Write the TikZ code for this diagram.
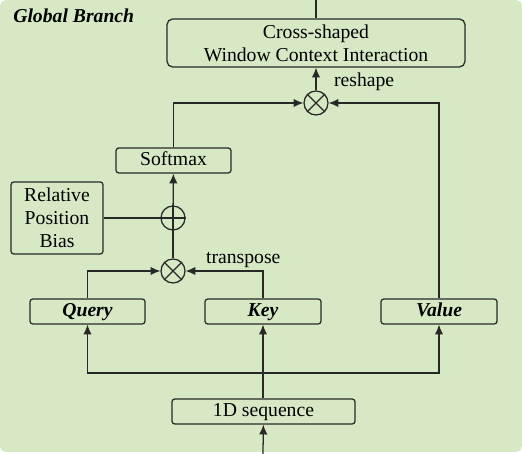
\documentclass[tikz,border=0pt]{standalone}
\usepackage{fontspec}
\setmainfont{Liberation Serif}
\usepackage{xcolor}
\usepackage{tikz}
\usetikzlibrary{arrows.meta}
\usetikzlibrary{positioning}

\definecolor{branchgreen}{RGB}{215,232,197}
\definecolor{linegray}{RGB}{40,40,40}

\begin{document}
\begin{tikzpicture}[
        line width=0.9pt, draw=linegray,
        every node/.style={font=\fontsize{14}{16.5}\selectfont},
        block/.style={draw=linegray,rounded corners=2pt,inner sep=0pt,minimum height=0.625cm,align=center},
        oneline/.style={text height=9.5pt,text depth=3pt},
        qkv/.style={block,oneline,font=\fontsize{14}{16.5}\selectfont\bfseries\itshape},
        opnode/.style={draw=linegray,circle,inner sep=0pt,minimum size=0.6cm},
        flow/.style={-{Latex[length=7pt,width=6pt]}}
    ]
        \useasboundingbox (0,0) rectangle (13.05,11.35);
        \fill[branchgreen,rounded corners=4pt] (0,0.05) rectangle (13.05,11.35);

        \node[anchor=west,font=\fontsize{14}{16.5}\selectfont\bfseries\itshape] (title) at (0.2,10.95) {Global Branch};

        \node[block,minimum width=7.45cm,minimum height=1.2cm,rounded corners=4pt] (cwci) at (7.9,10.275) {Cross-shaped\\Window Context Interaction};
        \node[opnode] (mulr) at (7.9,8.775) {};
        \node[anchor=west] (reshape) at (8.22,9.3) {reshape};

        \node[block,oneline,minimum width=2.875cm] (softmax) at (4.3375,7.3375) {Softmax};
        \node[opnode] (add) at (4.325,5.9) {};
        \node[block,minimum width=2.3cm,minimum height=1.8cm] (rpb) at (1.425,5.9) {Relative\\Position\\Bias};
        \node[opnode] (mult) at (4.325,4.575) {};
        \node[anchor=west] (transpose) at (5.02,4.85) {transpose};

        \node[qkv,minimum width=2.875cm] (query) at (2.1875,3.5625) {Query};
        \node[qkv,minimum width=2.9cm] (key) at (6.575,3.5625) {Key};
        \node[qkv,minimum width=2.9cm] (value) at (10.975,3.5625) {Value};
        \node[block,oneline,minimum width=4.575cm] (seq) at (6.5875,1.0625) {1D sequence};

        \coordinate (in) at (6.575,0);
        \coordinate (out) at (7.9,11.35);
        \coordinate (split) at (6.575,2.025);

        % operator signs
        \draw (mulr.north west) -- (mulr.south east) (mulr.north east) -- (mulr.south west);
        \draw (mult.north west) -- (mult.south east) (mult.north east) -- (mult.south west);
        \draw (add.north) -- (add.south) (add.west) -- (add.east);

        % connectors
        \draw[flow] (in) -- (seq);
        \draw[flow] (seq.north -| key) -- (key);
        \draw[flow] (split) -| (query);
        \draw[flow] (split) -| (value);
        \draw[flow] (query) |- (mult);
        \draw[flow] (key) |- (mult);
        \draw (mult) -- (add);
        \draw (rpb.east) -- (add);
        \draw[flow] (add) -- (softmax);
        \draw[flow] (softmax) |- (mulr);
        \draw[flow] (value) |- (mulr);
        \draw[flow] (mulr) -- (cwci);
        \draw (cwci) -- (out);
    \end{tikzpicture}
\end{document}
